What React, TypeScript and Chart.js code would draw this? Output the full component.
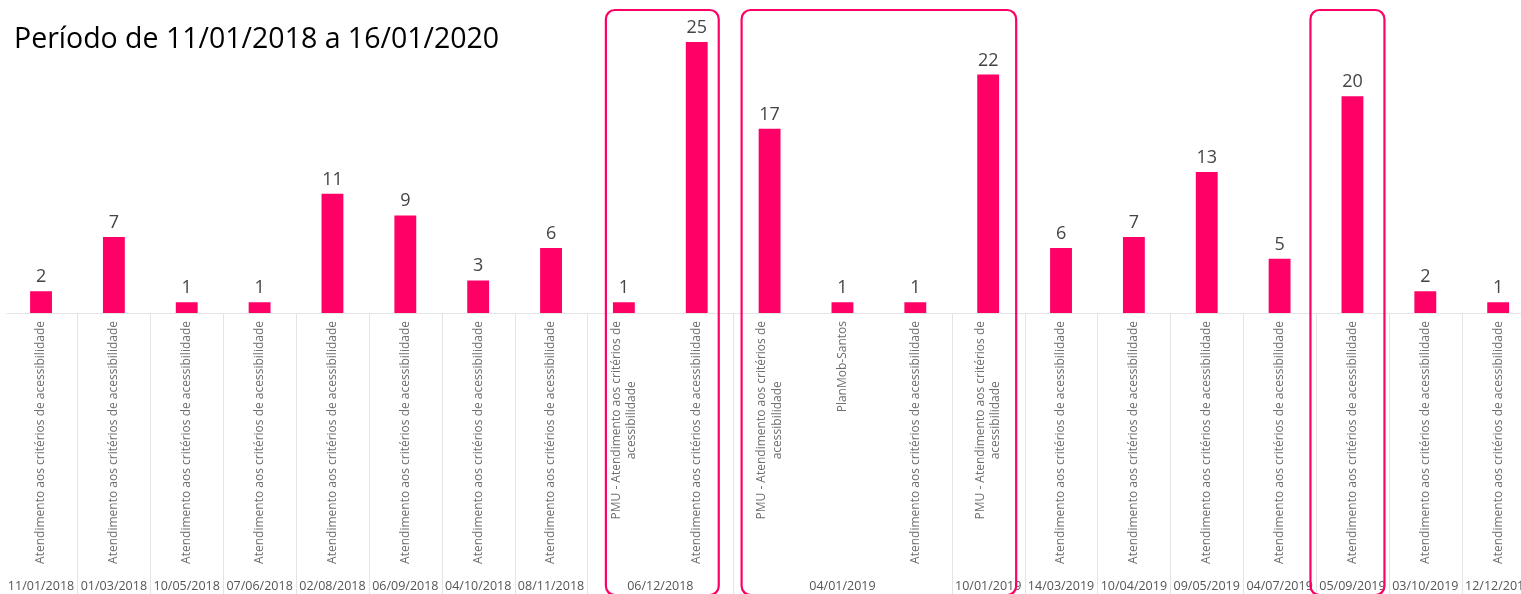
import React, { useEffect, useRef } from "react";
import { Chart, registerables } from "chart.js";

Chart.register(...registerables);

const TITLE = "Período de 11/01/2018 a 16/01/2020";

const dates = [
  "11/01/2018", "01/03/2018", "10/05/2018", "07/06/2018", "02/08/2018",
  "06/09/2018", "04/10/2018", "08/11/2018", "06/12/2018", "06/12/2018",
  "04/01/2019", "04/01/2019", "04/01/2019", "10/01/2019", "14/03/2019",
  "10/04/2019", "09/05/2019", "04/07/2019", "05/09/2019", "03/10/2019",
  "12/12/2019",
];

const A = ["Atendimento aos critérios de acessibilidade"];
const PMU = ["PMU - Atendimento aos critérios de", "acessibilidade"];
const PLAN = ["PlanMob-Santos"];

const topics: string[][] = [
  A, A, A, A, A, A, A, A, PMU, A, PMU, PLAN, A, PMU, A, A, A, A, A, A, A,
];

const values = [2, 7, 1, 1, 11, 9, 3, 6, 1, 25, 17, 1, 1, 22, 6, 7, 13, 5, 20, 2, 1];

// highlighted ranges of bars (first index, last index)
const highlights: [number, number][] = [
  [8, 9],
  [10, 13],
  [18, 18],
];
// hand-drawn box margins (left, right) in px
const highlightMargins: [number, number][] = [
  [18, 22],
  [28, 28],
  [42, 32],
];

const PINK = "#FF0066";

const annotPlugin = {
  id: "annot",
  beforeDatasetsDraw(chart: any) {
    const { ctx, chartArea, scales } = chart;
    const x = scales.x;
    const base = chartArea.bottom;
    ctx.save();
    ctx.strokeStyle = "#e4e4e4";
    ctx.lineWidth = 1;
    ctx.beginPath();
    ctx.moveTo(chartArea.left + 2, base + 0.5);
    ctx.lineTo(chart.width, base + 0.5);
    ctx.stroke();
    for (let i = 0; i < dates.length - 1; i++) {
      if (dates[i] !== dates[i + 1]) {
        const xb = Math.round((x.getPixelForValue(i) + x.getPixelForValue(i + 1)) / 2) + 0.5;
        ctx.beginPath();
        ctx.moveTo(xb, base);
        ctx.lineTo(xb, chart.height);
        ctx.stroke();
      }
    }
    ctx.restore();
  },
  afterDatasetsDraw(chart: any) {
    const { ctx, chartArea, scales } = chart;
    const x = scales.x;
    const y = scales.y;
    const base = chartArea.bottom;
    ctx.save();

    // title
    ctx.fillStyle = "#000";
    ctx.font = '28.5px "Open Sans"';
    ctx.textAlign = "left";
    ctx.textBaseline = "alphabetic";
    ctx.fillText(TITLE, 14, 48);

    // value labels
    ctx.fillStyle = "#444";
    ctx.font = '18px "Open Sans"';
    ctx.textAlign = "center";
    values.forEach((v, i) => {
      ctx.fillText(String(v), x.getPixelForValue(i), y.getPixelForValue(v) - 9);
    });

    // rotated topic labels
    ctx.fillStyle = "#6e6e6e";
    ctx.font = '12px "Open Sans"';
    const lh = 15.5;
    topics.forEach((lines, i) => {
      const cx = x.getPixelForValue(i);
      ctx.save();
      ctx.translate(cx, base + 8);
      ctx.rotate(-Math.PI / 2);
      const maxW = Math.max(...lines.map((l) => ctx.measureText(l).width));
      ctx.textAlign = "center";
      ctx.textBaseline = "middle";
      lines.forEach((l, k) => {
        ctx.fillText(l, -maxW / 2, (k - (lines.length - 1) / 2) * lh);
      });
      ctx.restore();
    });

    // date labels
    ctx.fillStyle = "#555";
    ctx.font = '12.5px "Open Sans"';
    ctx.textAlign = "center";
    ctx.textBaseline = "alphabetic";
    let s = 0;
    for (let i = 1; i <= dates.length; i++) {
      if (i === dates.length || dates[i] !== dates[s]) {
        const c = (x.getPixelForValue(s) + x.getPixelForValue(i - 1)) / 2;
        ctx.fillText(dates[s], c, 590);
        s = i;
      }
    }

    // highlight boxes
    ctx.strokeStyle = PINK;
    ctx.lineWidth = 2.2;
    highlights.forEach(([a, b], k) => {
      const [ml, mr] = highlightMargins[k];
      const l = x.getPixelForValue(a) - ml;
      const r = x.getPixelForValue(b) + mr;
      ctx.beginPath();
      ctx.roundRect(l, 10, r - l, 585, 9);
      ctx.stroke();
    });
    ctx.restore();
  },
};

export default function App() {
  const ref = useRef<HTMLCanvasElement | null>(null);
  useEffect(() => {
    document.body.style.margin = "0";
    document.body.style.overflow = "hidden";
    if (!ref.current) return;
    const chart = new Chart(ref.current, {
      type: "bar",
      data: {
        labels: dates,
        datasets: [
          {
            data: values,
            backgroundColor: PINK,
            borderWidth: 0,
            barPercentage: 1,
            categoryPercentage: 0.3,
          },
        ],
      },
      options: {
        animation: false,
        responsive: true,
        maintainAspectRatio: false,
        layout: { padding: { top: 42, bottom: 281, left: 4.6, right: 5.4 } },
        plugins: { legend: { display: false }, tooltip: { enabled: false } },
        scales: {
          x: { display: false },
          y: { display: false, min: 0, max: 25 },
        },
      },
      plugins: [annotPlugin],
    });
    return () => chart.destroy();
  }, []);
  return (
    <div style={{ position: "relative", width: 1540, height: 594 }}>
      <canvas ref={ref} />
    </div>
  );
}
